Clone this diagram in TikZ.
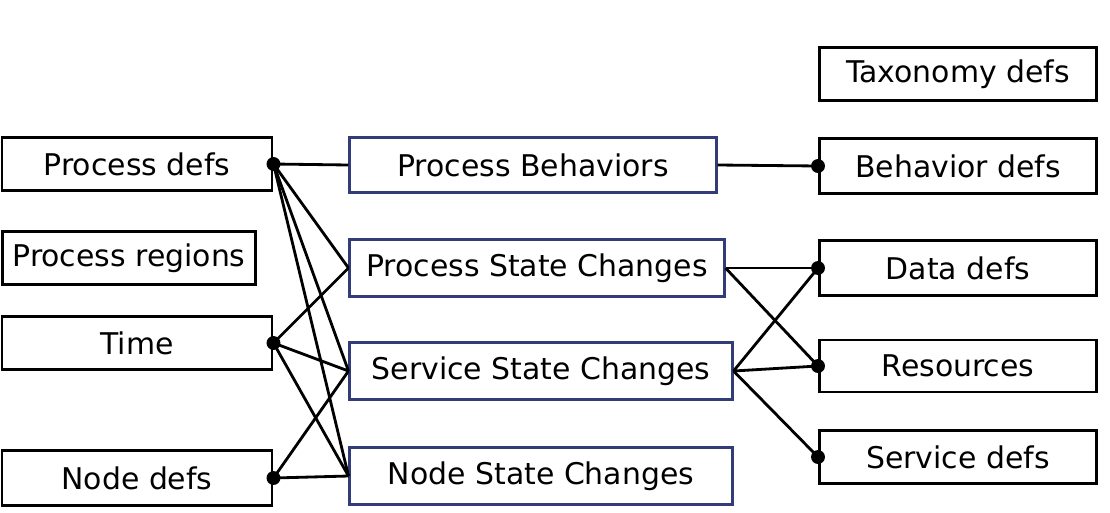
\documentclass[tikz,border=0pt]{standalone}
\usepackage{fontspec}
\setmainfont{DejaVu Sans}
\definecolor{boxblue}{RGB}{50,60,120}
\tikzset{
  defbox/.style={draw, thick, inner sep=0pt, font=\fontsize{8.5}{10}\selectfont},
  viewbox/.style={defbox, draw=boxblue},
  dot/.style={circle, fill, inner sep=1.4pt}
}
\begin{document}
\begin{tikzpicture}[x=0.01cm, y=-0.01cm]
\useasboundingbox (0,0) rectangle (1110,512);
% left column
\node [defbox, minimum width=2.7cm, minimum height=0.53cm] (pdefs) at (137,164) {Process defs};
\node [defbox, minimum width=2.53cm, minimum height=0.53cm] (pregions) at (129,258) {Process regions};
\node [defbox, minimum width=2.7cm, minimum height=0.53cm] (time) at (137,343) {Time};
\node [defbox, minimum width=2.7cm, minimum height=0.55cm] (ndefs) at (137,478) {Node defs};
% middle column
\node [viewbox, minimum width=3.66cm, minimum height=0.55cm] (pbeh) at (533,165) {Process Behaviors};
\node [viewbox, minimum width=3.74cm, minimum height=0.57cm] (psc) at (537,268) {Process State Changes};
\node [viewbox, minimum width=3.82cm, minimum height=0.57cm] (ssc) at (541,371) {Service State Changes};
\node [viewbox, minimum width=3.82cm, minimum height=0.57cm] (nsc) at (541,476) {Node State Changes};
% right column
\node [defbox, minimum width=2.77cm, minimum height=0.53cm] (tdefs) at (958,74) {Taxonomy defs};
\node [defbox, minimum width=2.77cm, minimum height=0.55cm] (bdefs) at (958,166) {Behavior defs};
\node [defbox, minimum width=2.77cm, minimum height=0.55cm] (ddefs) at (958,268) {Data defs};
\node [defbox, minimum width=2.77cm, minimum height=0.52cm] (res) at (958,366) {Resources};
\node [defbox, minimum width=2.77cm, minimum height=0.53cm] (sdefs) at (958,457) {Service defs};
% junction dots
\node [dot] (pd) at (pdefs.east) {};
\node [dot] (tm) at (time.east) {};
\node [dot] (nd) at (ndefs.east) {};
\node [dot] (bd) at (bdefs.west) {};
\node [dot] (dd) at (ddefs.west) {};
\node [dot] (rs) at (res.west) {};
\node [dot] (sd) at (sdefs.west) {};
% links
\foreach \t in {pbeh,psc,ssc,nsc} \draw [thick] (pd.center) -- (\t.west);
\foreach \t in {psc,ssc,nsc} \draw [thick] (tm.center) -- (\t.west);
\foreach \t in {ssc,nsc} \draw [thick] (nd.center) -- (\t.west);
\draw [thick] (pbeh.east) -- (bd.center);
\foreach \t in {dd,rs} \draw [thick] (psc.east) -- (\t.center);
\foreach \t in {dd,rs,sd} \draw [thick] (ssc.east) -- (\t.center);
\end{tikzpicture}
\end{document}
